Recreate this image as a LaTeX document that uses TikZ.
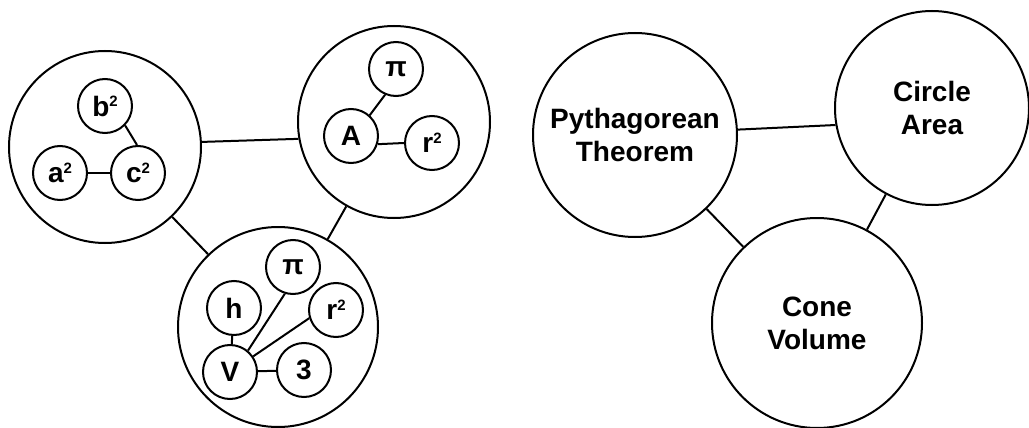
\documentclass[tikz,border=0pt]{standalone}
\usepackage{fontspec}
\setmainfont{Liberation Sans}
\newcommand{\sqr}{\raisebox{9.5pt}{\fontsize{15}{15}\selectfont 2}}

\begin{document}
\begin{tikzpicture}[x=1pt, y=-1pt, line width=2pt,
    group/.style={circle, draw, inner sep=0pt},
    term/.style={circle, draw, minimum size=54pt, inner sep=0pt,
      font=\fontsize{28}{28}\selectfont\bfseries},
    topic/.style={circle, draw, inner sep=0pt, align=center,
      font=\fontsize{28}{33}\selectfont\bfseries}]
  \useasboundingbox (0,0) rectangle (1029,428);
  % left: the formulas inside each circle
  \node[group, minimum size=192pt] (PT) at (105,147) {};
  \node[group, minimum size=192pt] (CA) at (394,122) {};
  \node[group, minimum size=200pt] (CV) at (278,327) {};
  \node[term] (b2) at (105,106) {b\sqr};
  \node[term] (a2) at (60,173) {a\sqr};
  \node[term] (c2) at (138,173) {c\sqr};
  \node[term] (A) at (351,136) {A};
  \node[term] (piA) at (396,69) {π};
  \node[term] (rA) at (432,143) {r\sqr};
  \node[term] (h) at (234,308) {h};
  \node[term] (piV) at (293,267) {π};
  \node[term] (rV) at (336,310) {r\sqr};
  \node[term] (V) at (230,372) {V};
  \node[term] (three) at (304,370) {3};
  \draw (b2.-44) -- (c2.92);
  \draw (a2) -- (c2);
  \draw (A.48) -- (piA.247);
  \draw (A.-17) -- (rA.180);
  \draw (h) -- (V);
  \draw (V.50) -- (piV.253);
  \draw (V.34) -- (rV.197);
  \draw (V) -- (three);
  \draw (PT.3) -- (CA.190);
  \draw (PT) -- (CV);
  \draw (CA) -- (CV);
  % right: the same three, named
  \node[topic, minimum size=204pt] (pyth) at (635,135) {Pythagorean\\Theorem};
  \node[topic, minimum size=194pt] (area) at (932,108) {Circle\\Area};
  \node[topic, minimum size=210pt] (cone) at (817,323) {Cone\\Volume};
  \draw (pyth.3) -- (area.190);
  \draw (pyth) -- (cone);
  \draw (area) -- (cone);
\end{tikzpicture}
\end{document}
